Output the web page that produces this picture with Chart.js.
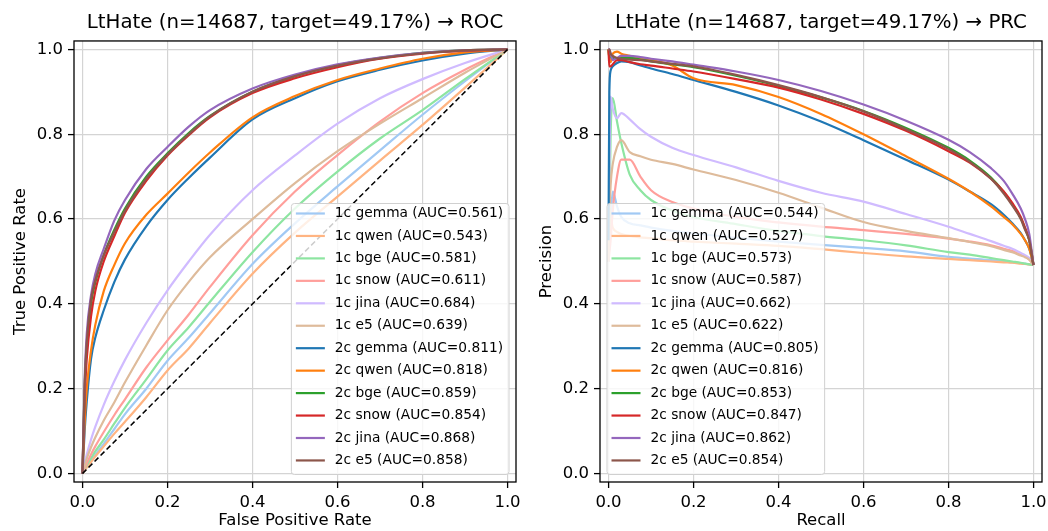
<!DOCTYPE html>
<html><head><meta charset="utf-8">
<script src="https://cdn.jsdelivr.net/npm/chart.js@4/dist/chart.umd.min.js"></script>
<style>
html,body{margin:0;padding:0;background:#fff;}
#wrap{position:relative;width:1048px;height:531px;overflow:hidden;}
.box{position:absolute;top:0;width:524px;height:531px;}
#b1{left:0;} #b2{left:524px;}
</style></head><body>
<div id="wrap"><div class="box" id="b1"><canvas id="c1" width="524" height="531"></canvas></div><div class="box" id="b2"><canvas id="c2" width="524" height="531"></canvas></div></div>
<script>
// ---------- data ----------
const seriesLabels = ['1c gemma','1c qwen','1c bge','1c snow','1c jina','1c e5','2c gemma','2c qwen','2c bge','2c snow','2c jina','2c e5'];
const seriesColors = ['#a1c9f4','#ffb482','#8de5a1','#ff9f9b','#d0bbff','#debb9b','#1f77b4','#ff7f0e','#2ca02c','#d62728','#9467bd','#8c564b'];
const rocAUC = [0.561,0.543,0.581,0.611,0.684,0.639,0.811,0.818,0.859,0.854,0.868,0.858];
const prcAUC = [0.544,0.527,0.573,0.587,0.662,0.622,0.805,0.816,0.853,0.847,0.862,0.854];
const tickValues = [0,0.2,0.4,0.6,0.8,1.0];
const titleROC = 'LtHate (n=14687, target=49.17%) \u2192 ROC';
const titlePRC = 'LtHate (n=14687, target=49.17%) \u2192 PRC';

// ROC: false positive rate grid and true positive rates
const fprPoints = [0,0.005,0.01,0.02,0.03,0.05,0.075,0.1,0.15,0.2,0.25,0.3,0.4,0.5,0.6,0.7,0.8,0.9,1];
const tpr1cGemma = [0,0.008,0.016,0.03,0.044,0.07,0.105,0.14,0.2,0.266,0.32,0.378,0.494,0.59,0.677,0.762,0.846,0.925,1];
const tpr1cQwen  = [0,0.007,0.014,0.027,0.04,0.064,0.094,0.122,0.18,0.243,0.295,0.355,0.471,0.568,0.653,0.738,0.822,0.91,1];
const tpr1cBge   = [0,0.01,0.02,0.036,0.052,0.08,0.118,0.155,0.222,0.29,0.345,0.405,0.522,0.625,0.712,0.79,0.857,0.93,1];
const tpr1cSnow  = [0,0.012,0.024,0.045,0.064,0.098,0.138,0.175,0.25,0.314,0.375,0.44,0.562,0.665,0.751,0.83,0.897,0.952,1];
const tpr1cJina  = [0,0.025,0.045,0.08,0.11,0.162,0.218,0.268,0.355,0.432,0.5,0.563,0.668,0.75,0.825,0.885,0.93,0.968,1];
const tpr1cE5    = [0,0.018,0.035,0.062,0.085,0.125,0.168,0.215,0.302,0.385,0.452,0.51,0.6,0.685,0.76,0.825,0.885,0.945,1];
const tpr2cGemma = [0,0.1,0.17,0.27,0.32,0.385,0.452,0.505,0.583,0.645,0.697,0.745,0.835,0.885,0.925,0.952,0.974,0.99,1];
const tpr2cQwen  = [0,0.12,0.2,0.29,0.35,0.43,0.492,0.543,0.61,0.66,0.71,0.757,0.84,0.89,0.928,0.955,0.978,0.993,1];
const tpr2cBge   = [0,0.2,0.3,0.4,0.45,0.515,0.575,0.625,0.7,0.755,0.803,0.843,0.9,0.937,0.963,0.98,0.992,0.998,1];
const tpr2cSnow  = [0,0.18,0.27,0.37,0.43,0.5,0.56,0.615,0.69,0.75,0.798,0.84,0.897,0.932,0.958,0.978,0.99,0.997,1];
const tpr2cJina  = [0,0.22,0.33,0.42,0.47,0.53,0.597,0.645,0.718,0.77,0.818,0.857,0.908,0.941,0.965,0.981,0.992,0.998,1];
const tpr2cE5    = [0,0.21,0.31,0.41,0.455,0.515,0.57,0.62,0.695,0.752,0.8,0.842,0.9,0.937,0.962,0.979,0.991,0.998,1];
const chanceLine = [0,1];

// PRC: recall grid and precisions
const recallPoints = [0,0.002,0.005,0.01,0.02,0.03,0.05,0.075,0.1,0.15,0.2,0.3,0.4,0.5,0.6,0.7,0.8,0.85,0.9,0.93,0.95,0.97,0.98,0.99,1];
const prec1cGemma = [0.5,0.55,0.6,0.665,0.63,0.605,0.59,0.585,0.58,0.572,0.566,0.556,0.547,0.539,0.532,0.524,0.511,0.507,0.503,0.5,0.498,0.496,0.495,0.493,0.4917];
const prec1cQwen  = [0.5,0.55,0.6,0.58,0.57,0.565,0.56,0.557,0.555,0.55,0.547,0.542,0.537,0.529,0.52,0.512,0.506,0.503,0.5,0.498,0.497,0.495,0.494,0.493,0.4917];
const prec1cBge   = [0.5,0.6,0.8,0.885,0.83,0.78,0.705,0.668,0.645,0.62,0.605,0.588,0.572,0.56,0.55,0.538,0.522,0.516,0.508,0.503,0.5,0.497,0.495,0.493,0.4917];
const prec1cSnow  = [0.5,0.52,0.55,0.62,0.7,0.74,0.74,0.7,0.668,0.64,0.625,0.605,0.592,0.582,0.574,0.565,0.554,0.547,0.538,0.53,0.525,0.516,0.512,0.505,0.4917];
const prec1cJina  = [0.5,0.7,0.889,0.86,0.838,0.85,0.835,0.812,0.794,0.768,0.751,0.722,0.69,0.662,0.641,0.612,0.582,0.565,0.548,0.537,0.53,0.52,0.515,0.508,0.4917];
const prec1cE5    = [0.5,0.6,0.68,0.73,0.77,0.786,0.758,0.748,0.74,0.73,0.717,0.692,0.662,0.627,0.593,0.572,0.555,0.546,0.536,0.527,0.522,0.514,0.51,0.504,0.4917];
const prec2cGemma = [0.55,0.9,0.95,0.96,0.968,0.972,0.97,0.962,0.955,0.942,0.928,0.9,0.868,0.83,0.786,0.74,0.693,0.665,0.635,0.61,0.59,0.567,0.55,0.53,0.4917];
const prec2cQwen  = [1,0.98,0.97,0.99,0.995,0.99,0.985,0.978,0.975,0.962,0.932,0.916,0.888,0.848,0.8,0.748,0.695,0.665,0.63,0.605,0.588,0.565,0.55,0.53,0.4917];
const prec2cBge   = [1,0.98,0.985,0.98,0.978,0.98,0.98,0.976,0.972,0.965,0.958,0.938,0.914,0.887,0.855,0.815,0.768,0.738,0.698,0.664,0.635,0.602,0.578,0.55,0.4917];
const prec2cSnow  = [1,0.96,0.96,0.965,0.975,0.975,0.97,0.965,0.962,0.955,0.948,0.93,0.91,0.882,0.848,0.808,0.76,0.733,0.695,0.665,0.638,0.605,0.58,0.552,0.4917];
const prec2cJina  = [1,1,0.99,0.975,0.98,0.985,0.985,0.982,0.978,0.972,0.964,0.948,0.928,0.902,0.87,0.832,0.787,0.758,0.72,0.69,0.66,0.625,0.6,0.565,0.4917];
const prec2cE5    = [1,1,0.99,0.985,0.98,0.978,0.976,0.975,0.972,0.966,0.96,0.94,0.916,0.888,0.854,0.812,0.765,0.735,0.695,0.66,0.632,0.6,0.575,0.55,0.4917];

const rocSeries = [tpr1cGemma,tpr1cQwen,tpr1cBge,tpr1cSnow,tpr1cJina,tpr1cE5,tpr2cGemma,tpr2cQwen,tpr2cBge,tpr2cSnow,tpr2cJina,tpr2cE5];
const prcSeries = [prec1cGemma,prec1cQwen,prec1cBge,prec1cSnow,prec1cJina,prec1cE5,prec2cGemma,prec2cQwen,prec2cBge,prec2cSnow,prec2cJina,prec2cE5];

// ---------- rendering ----------
const FONT = '"DejaVu Sans", sans-serif';
Chart.defaults.font.family = FONT;
Chart.defaults.color = '#000';

function buildDatasets(xs, ysList, aucs) {
  return ysList.map((ys, i) => ({
    label: seriesLabels[i] + ' (AUC=' + aucs[i].toFixed(3) + ')',
    data: xs.map((x, j) => ({x: x, y: ys[j]})),
    borderColor: seriesColors[i], backgroundColor: seriesColors[i],
    borderWidth: 2.2, pointRadius: 0, pointHoverRadius: 0, fill: false,
    cubicInterpolationMode: 'monotone',
    order: -i
  }));
}

const framePlugin = {
  id: 'frame',
  afterDatasetsDraw(chart) {
    const {ctx, chartArea: a} = chart;
    ctx.save();
    ctx.strokeStyle = '#000'; ctx.lineWidth = 1.3;
    ctx.strokeRect(a.left, a.top, a.right - a.left, a.bottom - a.top);
    ctx.restore();
  }
};

const legendPlugin = {
  id: 'boxLegend',
  afterDraw(chart, args, opts) {
    const {ctx, chartArea: a} = chart;
    const items = chart.data.datasets.filter(d => !d.isRef);
    const fs = 13.75;
    ctx.save();
    ctx.font = fs + 'px ' + FONT;
    const tw = Math.max.apply(null, items.map(d => ctx.measureText(d.label).width));
    const padL = 4.5, hl = 29, htp = 10, padR = 6, rowH = 22.45;
    const w = padL + hl + htp + tw + padR;
    const h = 271;
    const bottom = a.bottom - 7.5;
    const left = opts.side === 'right' ? a.right - 7 - w : a.left + 7;
    const top = bottom - h;
    const r = 3;
    ctx.beginPath();
    ctx.moveTo(left + r, top); ctx.lineTo(left + w - r, top); ctx.arcTo(left + w, top, left + w, top + r, r);
    ctx.lineTo(left + w, top + h - r); ctx.arcTo(left + w, top + h, left + w - r, top + h, r);
    ctx.lineTo(left + r, top + h); ctx.arcTo(left, top + h, left, top + h - r, r);
    ctx.lineTo(left, top + r); ctx.arcTo(left, top, left + r, top, r);
    ctx.closePath();
    ctx.fillStyle = 'rgba(255,255,255,0.8)'; ctx.fill();
    ctx.strokeStyle = '#d0d0d0'; ctx.lineWidth = 1; ctx.stroke();
    ctx.textBaseline = 'middle'; ctx.textAlign = 'left';
    items.forEach((d, i) => {
      const cy = top + 10 + i * rowH;
      ctx.strokeStyle = d.borderColor; ctx.lineWidth = 2.2;
      ctx.beginPath(); ctx.moveTo(left + padL, cy); ctx.lineTo(left + padL + hl, cy); ctx.stroke();
      ctx.fillStyle = '#000';
      ctx.fillText(d.label, left + padL + hl + htp, cy);
    });
    ctx.restore();
  }
};

function axisCfg(titleText, isX, yWidth, titlePad) {
  return {
    type: 'linear', min: -0.02, max: 1.02,
    afterBuildTicks: s => { s.ticks = tickValues.map(v => ({value: v})); },
    afterFit: s => {
      if (isX) { s.height = 49; s.paddingLeft = 0; s.paddingRight = 0; }
      else { s.width = yWidth; s.paddingTop = 0; s.paddingBottom = 0; }
    },
    ticks: { callback: v => Number(v).toFixed(1), font: {size: 16.5}, color: '#000', padding: 5, maxRotation: 0, autoSkip: false },
    grid: { color: '#d4d4d4', lineWidth: 1.2, tickLength: 6, tickColor: '#000', tickWidth: 1.3, drawTicks: true },
    border: { display: false },
    title: { display: true, text: titleText, font: {size: 16.5}, color: '#000', padding: titlePad }
  };
}

function makeChart(canvasId, title, datasets, xTitle, yTitle, yWidth, rightPad, yTitlePad, legendSide) {
  return new Chart(document.getElementById(canvasId), {
    type: 'line',
    data: { datasets: datasets },
    options: {
      responsive: false, animation: false, devicePixelRatio: 1,
      layout: { padding: { left: 0, right: rightPad, top: 0, bottom: 0 } },
      scales: {
        x: axisCfg(xTitle, true, 0, {top: 0, bottom: 0}),
        y: axisCfg(yTitle, false, yWidth, {top: yTitlePad, bottom: 0})
      },
      plugins: {
        legend: { display: false },
        tooltip: { enabled: false },
        title: { display: true, text: title, fullSize: false, color: '#000',
                 font: {size: 19.8, weight: 'normal'}, padding: {top: 10.7, bottom: 6.5} },
        boxLegend: { side: legendSide }
      }
    },
    plugins: [framePlugin, legendPlugin]
  });
}

const rocData = buildDatasets(fprPoints, rocSeries, rocAUC);
rocData.push({
  label: 'chance', isRef: true,
  data: chanceLine.map(v => ({x: v, y: v})),
  borderColor: '#000', borderWidth: 1.5, borderDash: [5.5, 3], pointRadius: 0, fill: false, order: -100
});
const prcData = buildDatasets(recallPoints, prcSeries, prcAUC);

makeChart('c1', titleROC, rocData, 'False Positive Rate', 'True Positive Rate', 74, 8, 10.7, 'right');
makeChart('c2', titlePRC, prcData, 'Recall', 'Precision', 76, 6, 12.7, 'left');
</script>
</body></html>
